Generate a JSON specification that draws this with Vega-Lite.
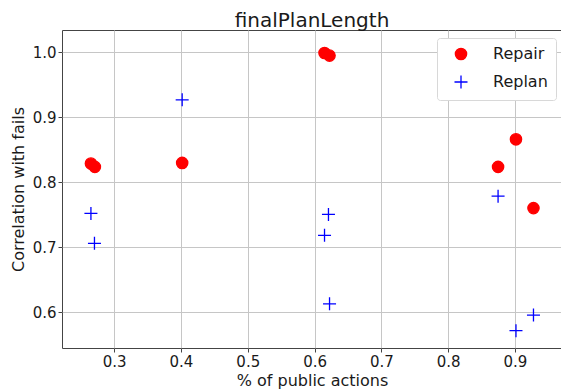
{
  "$schema": "https://vega.github.io/schema/vega-lite/v6.json",
  "autosize": "none",
  "width": 500,
  "height": 318,
  "padding": {"left": 62, "top": 30, "right": 0, "bottom": 41},
  "background": "white",
  "title": {
    "text": "finalPlanLength",
    "fontSize": 20,
    "fontWeight": "normal",
    "font": "DejaVu Sans",
    "color": "#1a1a1a",
    "baseline": "alphabetic",
    "offset": 5,
    "dy": 22
  },
  "data": {
    "values": [
      {"pub": 0.2652, "corr": 0.8289, "method": "Repair"},
      {"pub": 0.2711, "corr": 0.8238, "method": "Repair"},
      {"pub": 0.4018, "corr": 0.8299, "method": "Repair"},
      {"pub": 0.6149, "corr": 0.9990, "method": "Repair"},
      {"pub": 0.6224, "corr": 0.9949, "method": "Repair"},
      {"pub": 0.8747, "corr": 0.8238, "method": "Repair"},
      {"pub": 0.9015, "corr": 0.8662, "method": "Repair"},
      {"pub": 0.9277, "corr": 0.7604, "method": "Repair"},
      {"pub": 0.2652, "corr": 0.7522, "method": "Replan"},
      {"pub": 0.2705, "corr": 0.7063, "method": "Replan"},
      {"pub": 0.4018, "corr": 0.9269, "method": "Replan"},
      {"pub": 0.6149, "corr": 0.7185, "method": "Replan"},
      {"pub": 0.6208, "corr": 0.7507, "method": "Replan"},
      {"pub": 0.6224, "corr": 0.6133, "method": "Replan"},
      {"pub": 0.8747, "corr": 0.7788, "method": "Replan"},
      {"pub": 0.9015, "corr": 0.5719, "method": "Replan"},
      {"pub": 0.9277, "corr": 0.5959, "method": "Replan"}
    ]
  },
  "mark": {"type": "point", "filled": true, "size": 128, "strokeWidth": 1.3, "opacity": 1},
  "encoding": {
    "x": {
      "field": "pub",
      "type": "quantitative",
      "title": "% of public actions",
      "scale": {"domain": [0.2219, 0.9704], "nice": false, "zero": false},
      "axis": {"values": [0.3, 0.4, 0.5, 0.6, 0.7, 0.8, 0.9], "format": ".1f"}
    },
    "y": {
      "field": "corr",
      "type": "quantitative",
      "title": "Correlation with fails",
      "scale": {"domain": [0.5453, 1.0343], "nice": false, "zero": false},
      "axis": {"values": [0.6, 0.7, 0.8, 0.9, 1.0], "format": ".1f"}
    },
    "fill": {
      "field": "method",
      "type": "nominal",
      "scale": {"domain": ["Repair", "Replan"], "range": ["#ff0000", "#0000ff"]},
      "legend": {
        "title": null,
        "orient": "none",
        "legendX": 375,
        "legendY": 8
      }
    },
    "stroke": {
      "field": "method",
      "type": "nominal",
      "scale": {"domain": ["Repair", "Replan"], "range": ["#ff0000", "#0000ff"]}
    },
    "shape": {
      "field": "method",
      "type": "nominal",
      "scale": {"domain": ["Repair", "Replan"], "range": ["circle", "M-1.15,0H1.15M0,-1.15V1.15"]}
    },
    "order": {"field": "method", "sort": "ascending"}
  },
  "config": {
    "font": "DejaVu Sans",
    "view": {"stroke": "#444444", "strokeWidth": 1},
    "axis": {
      "domain": false,
      "grid": true,
      "gridColor": "#c6c6c6",
      "gridWidth": 1,
      "tickColor": "#444444",
      "tickSize": 4,
      "tickWidth": 1,
      "labelFontSize": 15,
      "labelColor": "#1a1a1a",
      "labelPadding": 2,
      "titleFontSize": 16,
      "titleFontWeight": "normal",
      "titleColor": "#1a1a1a"
    },
    "axisX": {"titlePadding": 3},
    "axisY": {"titlePadding": 6},
    "legend": {
      "fillColor": "white",
      "strokeColor": "#d8d8d8",
      "cornerRadius": 3,
      "padding": 8,
      "symbolSize": 128,
      "symbolStrokeWidth": 1.3,
      "symbolOffset": 8,
      "labelFontSize": 16,
      "labelColor": "#1a1a1a",
      "labelOffset": 24,
      "rowPadding": 9
    }
  }
}
